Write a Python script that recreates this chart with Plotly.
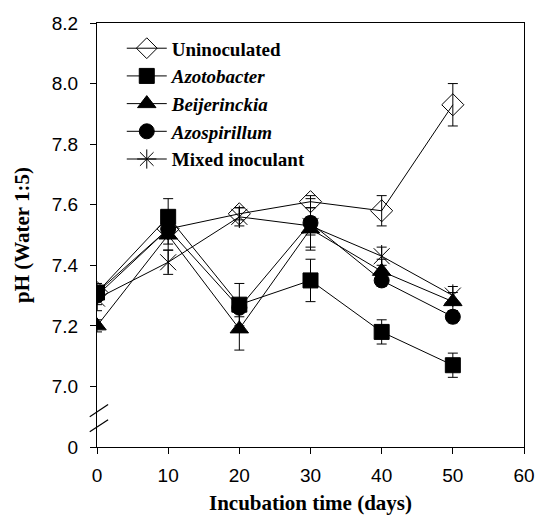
import plotly.graph_objects as go

days = [0, 10, 20, 30, 40, 50]

uninoculated = [7.31, 7.52, 7.57, 7.61, 7.58, 7.93]
uninoculated_err = [0.02, 0.03, 0.02, 0.02, 0.05, 0.07]

azotobacter = [7.31, 7.56, 7.27, 7.35, 7.18, 7.07]
azotobacter_err = [0.03, 0.06, 0.07, 0.07, 0.04, 0.04]

beijerinckia = [7.20, 7.50, 7.19, 7.52, 7.38, 7.28]
beijerinckia_err = [0.02, 0.05, 0.07, 0.07, 0.04, 0.03]

azospirillum = [7.30, 7.52, 7.26, 7.54, 7.35, 7.23]
azospirillum_err = [0.03, 0.05, 0.03, 0.08, 0.02, 0.02]

mixed = [7.29, 7.41, 7.56, 7.53, 7.43, 7.30]
mixed_err = [0.04, 0.04, 0.03, 0.03, 0.03, 0.03]

# broken y axis: "0" is drawn at position 6.8
y_tickvals = [6.8, 7.0, 7.2, 7.4, 7.6, 7.8, 8.0, 8.2]
y_ticktext = ["0", "7.0", "7.2", "7.4", "7.6", "7.8", "8.0", "8.2"]
x_tickvals = [0, 10, 20, 30, 40, 50, 60]

serif = "Liberation Serif"
sans = "Liberation Sans"

fig = go.Figure()

def err(e):
    return dict(type="data", array=e, visible=True, color="black", thickness=1, width=5)

series = [
    ("<b>Uninoculated</b>", uninoculated, uninoculated_err, "diamond-open", 17),
    ("<b><i>Azotobacter</i></b>", azotobacter, azotobacter_err, "square", 15),
    ("<b><i>Beijerinckia</i></b>", beijerinckia, beijerinckia_err, "triangle-up", 16),
    ("<b><i>Azospirillum</i></b>", azospirillum, azospirillum_err, "circle", 15),
]
for name, vals, e, sym, size in series:
    fig.add_trace(go.Scatter(
        x=days, y=vals, name=name, mode="lines+markers",
        line=dict(color="black", width=1),
        marker=dict(symbol=sym, size=size, color="black",
                    line=dict(color="black", width=1)),
        error_y=err(e),
    ))

# Mixed inoculant: 6-armed star = x plus vertical line
fig.add_trace(go.Scatter(
    x=days, y=mixed, name="mixed", mode="lines+markers", showlegend=False,
    line=dict(color="black", width=1),
    marker=dict(symbol="x-thin-open", size=16, color="black",
                line=dict(color="black", width=1)),
    error_y=err(mixed_err),
))
fig.add_trace(go.Scatter(
    x=days, y=mixed, mode="markers", showlegend=False, hoverinfo="skip",
    marker=dict(symbol="line-ns-open", size=16, color="black",
                line=dict(color="black", width=1)),
))
fig.add_trace(go.Scatter(
    x=[None], y=[None], name="<b>Mixed inoculant</b>", mode="lines+markers",
    line=dict(color="black", width=1),
    marker=dict(symbol="asterisk-open", size=16, color="black",
                line=dict(color="black", width=1)),
))

# axis break marks
for y0, y1 in [(6.9, 6.94), (6.85, 6.89)]:
    fig.add_shape(type="line", xref="paper", yref="y",
                  x0=-0.017, x1=0.026, y0=y0, y1=y1,
                  line=dict(color="black", width=1.2))

fig.update_layout(
    width=540, height=515,
    margin=dict(l=97, r=16, t=23, b=68),
    paper_bgcolor="white", plot_bgcolor="white",
    showlegend=True,
    legend=dict(x=0.058, y=0.985, xanchor="left", yanchor="top",
                bgcolor="rgba(0,0,0,0)", font=dict(family=serif, size=19, color="black"),
                itemwidth=40, tracegroupgap=0),
    xaxis=dict(range=[0, 60], tickvals=x_tickvals, showgrid=False, zeroline=False,
               automargin=False,
               showline=True, linecolor="black", linewidth=1, mirror=True,
               ticks="outside", ticklen=6, tickcolor="black", ticklabelstandoff=5,
               tickfont=dict(family=sans, size=19, color="black"),
               title=dict(text="<b>Incubation time (days)</b>",
                          font=dict(family=serif, size=21, color="black"), standoff=12)),
    yaxis=dict(range=[6.8, 8.2], tickvals=y_tickvals, ticktext=y_ticktext,
               showgrid=False, zeroline=False, automargin=False,
               showline=True, linecolor="black", linewidth=1, mirror=True,
               ticks="outside", ticklen=6, tickcolor="black", ticklabelstandoff=8,
               tickfont=dict(family=sans, size=19, color="black"),
               title=dict(text="<b>pH (Water 1:5)</b>",
                          font=dict(family=serif, size=21, color="black"), standoff=16)),
)

fig.write_html("out.html")
